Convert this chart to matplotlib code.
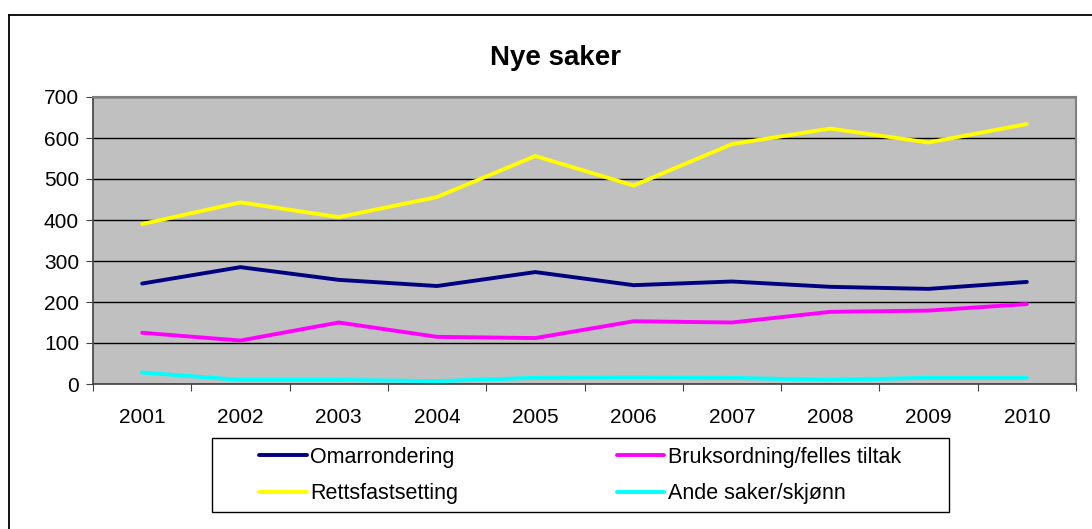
import matplotlib
matplotlib.use("Agg")
import matplotlib.pyplot as plt
from matplotlib.lines import Line2D
from matplotlib.patches import Rectangle

years = ["2001", "2002", "2003", "2004", "2005", "2006", "2007", "2008", "2009", "2010"]
omarrondering = [245, 285, 254, 239, 273, 241, 250, 237, 232, 249]
bruksordning = [125, 106, 150, 115, 112, 153, 150, 176, 179, 195]
rettsfastsetting = [390, 443, 407, 456, 556, 484, 585, 623, 589, 634]
andre = [28, 10, 10, 7, 15, 16, 15, 10, 15, 15]
series_names = ["Omarrondering", "Bruksordning/felles tiltak", "Rettsfastsetting", "Ande saker/skjønn"]
colors = ["#000080", "#FF00FF", "#FFFF00", "#00FFFF"]
yticks = [0, 100, 200, 300, 400, 500, 600, 700]

plt.rcParams['font.family'] = ['Liberation Sans', 'DejaVu Sans']

W, H = 1092, 529
fig = plt.figure(figsize=(W / 100, H / 100), dpi=100)
ax = fig.add_axes([93 / W, 1 - 384 / H, (1076 - 93) / W, (384 - 97) / H])
ax.set_facecolor("#C0C0C0")

x = list(range(1, len(years) + 1))
data = [omarrondering, bruksordning, rettsfastsetting, andre]
lines = []
for vals, c, name in zip(data, colors, series_names):
    ln, = ax.plot(x, vals, color=c, lw=2.8, label=name, solid_capstyle='round',
                  solid_joinstyle='miter', zorder=3)
    lines.append(ln)

ax.set_xlim(0.5, len(years) + 0.5)
ax.set_ylim(0, 700)
ax.set_yticks(yticks)
ax.set_yticklabels([str(v) for v in yticks], fontsize=15)
ax.set_xticks([i + 0.5 for i in range(0, len(years) + 1)])
ax.set_xticklabels([])
ax.set_xticks(x, minor=True)
ax.set_xticklabels(years, minor=True, fontsize=15)
ax.tick_params(axis='x', which='minor', length=0, pad=17)
ax.tick_params(axis='x', which='major', length=5, color="#404040", direction='out')
ax.tick_params(axis='y', length=5, color="#404040", direction='out', pad=5)
ax.yaxis.grid(True, color="black", lw=1)
ax.set_axisbelow(True)
for s in ["left", "bottom"]:
    ax.spines[s].set_color("#404040")
    ax.spines[s].set_linewidth(1.2)
for s in ["right", "top"]:
    ax.spines[s].set_color("#808080")
    ax.spines[s].set_linewidth(1.5)

fig.text(556 / W, 1 - 58 / H, "Nye saker", ha="center", va="center", fontsize=20, fontweight="bold")

leg = fig.legend(handles=[lines[0], lines[2], lines[1], lines[3]],
                 labels=[series_names[0], series_names[2], series_names[1], series_names[3]],
                 ncol=2, loc="center",
                 bbox_to_anchor=(580 / W, 1 - 475.5 / H),
                 fontsize=15.5, frameon=False,
                 handlelength=2.2, handletextpad=0.15, borderaxespad=0, labelspacing=0.7,
                 columnspacing=7.4, borderpad=0)

# legend frame
fig.patches.append(Rectangle((212 / W, 1 - 512 / H), (949 - 212) / W, (512 - 438) / H,
                             transform=fig.transFigure, fill=False, edgecolor="black", lw=1))

# outer chart border (top and left visible)
fig.lines.append(Line2D([8.5 / W, 1.0], [1 - 14.5 / H, 1 - 14.5 / H], transform=fig.transFigure,
                        color="black", lw=1.3))
fig.lines.append(Line2D([8.5 / W, 8.5 / W], [0, 1 - 14.5 / H], transform=fig.transFigure,
                        color="black", lw=1.3))

fig.savefig("out.png", dpi=100)
